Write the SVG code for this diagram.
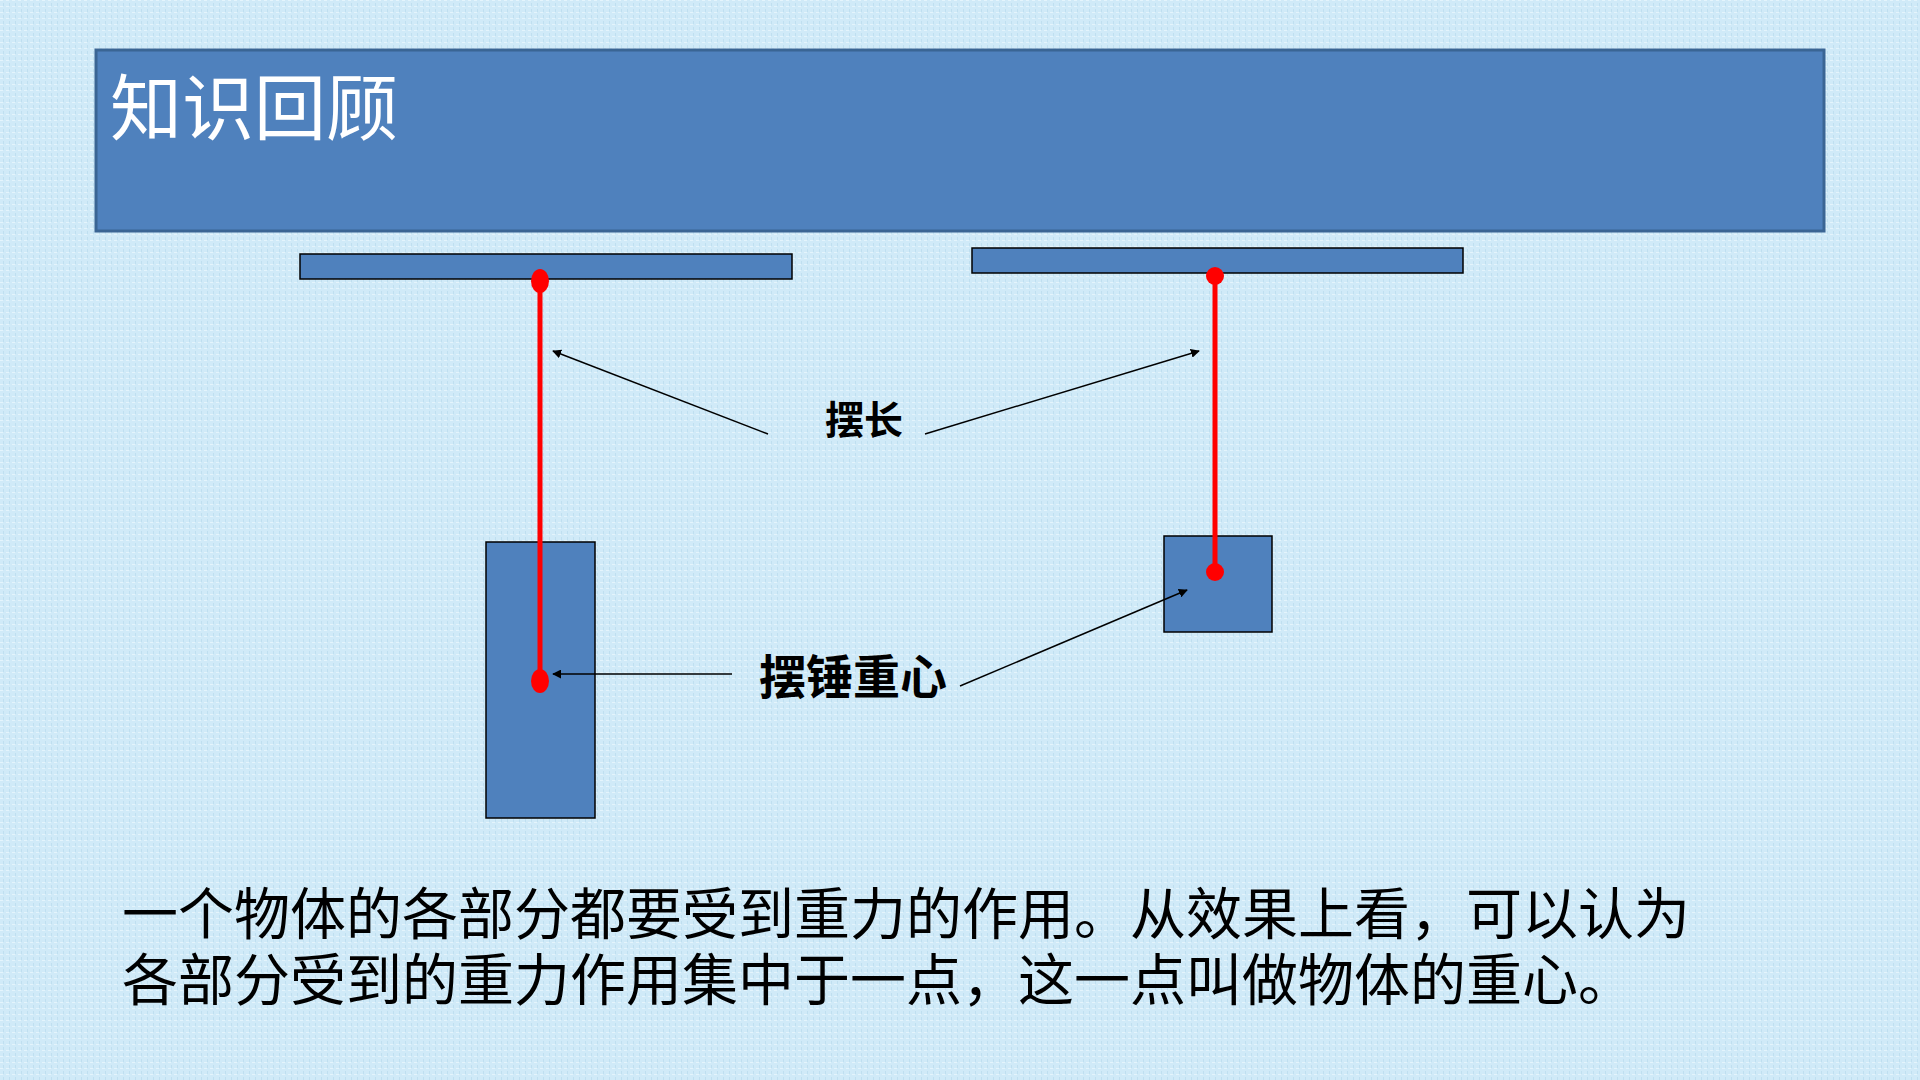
<svg xmlns="http://www.w3.org/2000/svg" width="1920" height="1080" viewBox="0 0 1920 1080">
<defs>
<style>
.box{fill:#4f81bd;stroke:#000;stroke-width:1.5}
.str{stroke:#ff0000;stroke-width:5;fill:none}
.dot{fill:#ff0000}
.arr{stroke:#000;stroke-width:1.5;fill:none;marker-end:url(#ah)}
.lbl{font-family:"Noto Sans CJK SC","Noto Sans",sans-serif;font-weight:bold;fill:#000}
.body{font-family:"Noto Sans CJK SC","Noto Sans",sans-serif;font-size:56px;fill:#000}
</style>
<marker id="ah" viewBox="0 0 10 10" refX="9" refY="5" markerWidth="9" markerHeight="9" markerUnits="userSpaceOnUse" orient="auto">
<path d="M0,0 L10,5 L0,10 z" fill="#000"/>
</marker>
<pattern id="tex" width="6" height="6" patternUnits="userSpaceOnUse">
<rect width="6" height="6" fill="#d0eaf8"/>
<rect x="0" y="0" width="3" height="1" fill="#e4f4fc"/>
<rect x="3" y="3" width="1" height="3" fill="#bfdff0"/>
</pattern>
</defs>
<rect width="1920" height="1080" fill="url(#tex)"/>
<g id="header">
<rect x="96" y="50" width="1728" height="181" fill="#4f81bd" stroke="#3a6594" stroke-width="3"/>
<text x="110" y="134" font-family="'Noto Sans CJK SC','Noto Sans',sans-serif" font-size="72" fill="#fff">知识回顾</text>
</g>
<g id="left-pendulum">
<rect class="box" x="300" y="254" width="492" height="25"/>
<rect class="box" x="486" y="542" width="109" height="276"/>
<line class="str" x1="540" y1="281" x2="540" y2="681"/>
<ellipse class="dot" cx="540" cy="281" rx="9" ry="12"/>
<ellipse class="dot" cx="540" cy="681" rx="9" ry="12"/>
</g>
<g id="right-pendulum">
<rect class="box" x="972" y="248" width="491" height="25"/>
<rect class="box" x="1164" y="536" width="108" height="96"/>
<line class="str" x1="1215" y1="276" x2="1215" y2="572"/>
<circle class="dot" cx="1215" cy="276" r="9"/>
<circle class="dot" cx="1215" cy="572" r="9"/>
</g>
<g id="labels">
<text class="lbl" x="825" y="434" font-size="39">摆长</text>
<text class="lbl" x="759" y="694" font-size="47">摆锤重心</text>
</g>
<g id="connectors">
<line class="arr" x1="768" y1="434" x2="553" y2="351"/>
<line class="arr" x1="925" y1="434" x2="1199" y2="351"/>
<line class="arr" x1="732" y1="674" x2="553" y2="674"/>
<line class="arr" x1="960" y1="686" x2="1187" y2="590"/>
</g>
<g id="caption">
<text class="body" x="122" y="934">一个物体的各部分都要受到重力的作用。从效果上看，可以认为</text>
<text class="body" x="122" y="1000">各部分受到的重力作用集中于一点，这一点叫做物体的重心。</text>
</g>
</svg>
